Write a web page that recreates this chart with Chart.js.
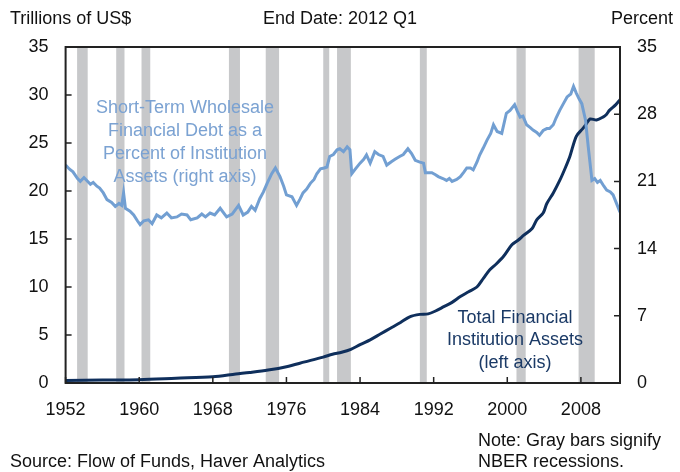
<!DOCTYPE html>
<html>
<head>
<meta charset="utf-8">
<script src="https://cdn.jsdelivr.net/npm/chart.js@4"></script>
<style>
  body { margin: 0; background: #fff; }
  canvas { display: block; }
</style>
</head>
<body>
<canvas id="chart" width="680" height="472"></canvas>
<script>
// Total financial institution assets, trillions of US$ (left axis)
const assetYears = [1952, 1956, 1960, 1964, 1968, 1970.5, 1972, 1974, 1976, 1978, 1980, 1981, 1982, 1983, 1984,
  1985.1, 1986.2, 1987.3, 1988.4, 1989.4, 1990.5, 1991.4, 1992.2, 1993.1, 1994, 1994.9, 1995.8, 1996.7, 1997.4,
  1998.1, 1998.8, 1999.6, 2000.5, 2001.2, 2001.8, 2002.7, 2003.2, 2003.9, 2004.3, 2005, 2005.7, 2006.3, 2006.8,
  2007.5, 2008.2, 2008.6, 2009, 2009.7, 2010.4, 2010.8, 2011.1, 2011.8, 2012.25];
const assetValues = [0.25, 0.3, 0.35, 0.5, 0.65, 0.94, 1.1, 1.35, 1.7, 2.2, 2.7, 3.0, 3.2, 3.5, 4.0,
  4.5, 5.1, 5.7, 6.3, 6.9, 7.15, 7.2, 7.5, 7.95, 8.4, 9.0, 9.5, 10.0, 10.9,
  11.8, 12.4, 13.2, 14.4, 14.9, 15.4, 16.1, 17.0, 17.7, 18.7, 19.8, 21.1, 22.4, 23.6,
  25.7, 26.5, 27.0, 27.5, 27.4, 27.7, 28.0, 28.4, 29.0, 29.5];

// Short-term wholesale financial debt, percent of institution assets (right axis)
const debtYears = [1952, 1952.4, 1952.8, 1953.3, 1953.6, 1954, 1954.3, 1954.7, 1955, 1955.4, 1955.7, 1956.1, 1956.5,
  1957, 1957.4, 1957.8, 1958.1, 1958.3, 1958.5, 1959, 1959.4, 1959.8, 1960.1, 1960.5, 1961, 1961.4, 1961.9, 1962.4,
  1963, 1963.5, 1964.1, 1964.6, 1965.2, 1965.6, 1966.3, 1966.8, 1967.2, 1967.7, 1968.2, 1968.8, 1969.5, 1970.1,
  1970.8, 1971.3, 1971.8, 1972.2, 1972.6, 1973.1, 1973.5, 1973.9, 1974.4, 1974.8, 1975.3, 1975.7, 1976, 1976.6,
  1977.1, 1977.5, 1977.8, 1978.2, 1978.6, 1979, 1979.3, 1979.7, 1980.1, 1980.4, 1980.7, 1981.1, 1981.5, 1981.8,
  1982.2, 1982.6, 1982.9, 1983.1, 1983.5, 1984, 1984.4, 1984.7, 1985.1, 1985.6, 1986, 1986.5, 1986.9, 1987.4,
  1987.8, 1988.3, 1988.7, 1989.2, 1989.6, 1990, 1990.5, 1990.9, 1991.1, 1991.8, 1992.2, 1992.5, 1993, 1993.4,
  1993.7, 1994, 1994.5, 1994.9, 1995.3, 1995.6, 1996, 1996.3, 1996.7, 1997, 1997.4, 1997.8, 1998.2, 1998.5,
  1998.9, 1999.4, 1999.9, 2000.3, 2000.8, 2001.1, 2001.4, 2001.7, 2002.1, 2002.5, 2002.8, 2003.2, 2003.5, 2003.9,
  2004.3, 2004.6, 2005, 2005.3, 2005.7, 2006.1, 2006.5, 2006.9, 2007.2, 2007.5, 2007.8, 2008.1, 2008.5, 2008.8,
  2009.2, 2009.5, 2009.8, 2010.1, 2010.5, 2010.8, 2011.2, 2011.5, 2012.25];
const debtValues = [22.7, 22.3, 22.0, 21.3, 21.0, 21.4, 21.1, 20.7, 20.9, 20.5, 20.3, 19.8, 19.1,
  18.8, 18.4, 18.7, 18.5, 19.8, 18.2, 17.9, 17.5, 16.9, 16.5, 16.9, 17.0, 16.6, 17.5, 17.2,
  17.7, 17.2, 17.3, 17.6, 17.5, 17.0, 17.2, 17.6, 17.3, 17.7, 17.5, 18.2, 17.3, 17.6,
  18.5, 17.5, 17.8, 18.4, 18.0, 19.2, 19.9, 20.8, 21.8, 22.4, 21.5, 20.5, 19.6, 19.4,
  18.5, 19.2, 19.8, 20.2, 20.8, 21.2, 21.8, 22.3, 22.4, 22.5, 23.6, 23.8, 24.3, 24.4,
  24.1, 24.6, 24.3, 21.8, 22.3, 22.9, 23.3, 23.75, 22.9, 24.1, 23.8, 23.6, 22.7, 23.05,
  23.3, 23.6, 23.8, 24.4, 23.9, 23.2, 23.0, 22.9, 21.9, 21.9, 21.7, 21.5, 21.3, 21.1,
  21.3, 21.0, 21.2, 21.5, 22.0, 22.4, 22.4, 22.2, 23.0, 23.75, 24.5, 25.3, 26.0, 26.9,
  26.2, 26.0, 28.1, 28.4, 29.0, 28.3, 27.7, 27.8, 26.9, 26.6, 26.35, 26.1, 25.8, 26.3,
  26.5, 26.5, 26.9, 27.6, 28.4, 29.1, 29.8, 30.1, 30.9, 30.2, 29.6, 29.1, 27.4, 24.6,
  21.1, 21.3, 20.9, 21.1, 20.5, 20.1, 19.9, 19.6, 17.8];

// NBER recessions (gray bars)
const recessionStart = [1953.25, 1957.5, 1960.25, 1969.75, 1973.75, 1980.0, 1981.5, 1990.5, 2001.0, 2007.75];
const recessionEnd = [1954.4, 1958.4, 1961.2, 1970.95, 1975.2, 1980.65, 1983.0, 1991.25, 2002.0, 2009.5];

const xTicks = [1952, 1960, 1968, 1976, 1984, 1992, 2000, 2008];

const FONT = '"Liberation Sans", Arial, sans-serif';
Chart.defaults.font.family = FONT;
Chart.defaults.font.size = 18;
Chart.defaults.color = '#111';

const toPoints = (xs, ys) => xs.map((x, i) => ({ x: x, y: ys[i] }));

const recessionBars = {
    id: 'recessionBars',
    beforeDatasetsDraw(chart) {
        const { ctx, chartArea, scales } = chart;
        ctx.save();
        ctx.fillStyle = '#c7c8ca';
        recessionStart.forEach((s, i) => {
            const x0 = scales.x.getPixelForValue(s);
            const x1 = scales.x.getPixelForValue(recessionEnd[i]);
            ctx.fillRect(x0, chartArea.top, x1 - x0, chartArea.bottom - chartArea.top);
        });
        ctx.restore();
    }
};

const frameAndText = {
    id: 'frameAndText',
    afterDraw(chart) {
        const { ctx, chartArea, scales } = chart;
        const a = chartArea;
        ctx.save();

        // inward tick marks
        ctx.strokeStyle = '#222';
        ctx.lineWidth = 1.5;
        ctx.beginPath();
        scales.y.ticks.forEach(t => {
            const y = scales.y.getPixelForValue(t.value);
            ctx.moveTo(a.left, y); ctx.lineTo(a.left + 6, y);
        });
        scales.y2.ticks.forEach(t => {
            const y = scales.y2.getPixelForValue(t.value);
            ctx.moveTo(a.right, y); ctx.lineTo(a.right - 6, y);
        });
        xTicks.forEach(v => {
            const x = scales.x.getPixelForValue(v);
            ctx.moveTo(x, a.bottom); ctx.lineTo(x, a.bottom - 6);
        });
        ctx.stroke();

        // frame
        ctx.lineWidth = 2;
        ctx.strokeRect(a.left, a.top, a.right - a.left, a.bottom - a.top);

        ctx.font = '18px ' + FONT;
        ctx.textBaseline = 'middle';
        ctx.fillStyle = '#111';
        ctx.textAlign = 'left';
        ctx.fillText('Trillions of US$', 10, 19);
        ctx.fillText('Source: Flow of Funds, Haver Analytics', 10, 462);
        ctx.fillText('Note: Gray bars signify', 478, 441);
        ctx.fillText('NBER recessions.', 478, 462);
        ctx.textAlign = 'center';
        ctx.fillText('End Date: 2012 Q1', 340, 19);
        ctx.textAlign = 'right';
        ctx.fillText('Percent', 673, 19);

        // series labels
        ctx.textAlign = 'center';
        ctx.fillStyle = '#7ba2d2';
        ['Short-Term Wholesale', 'Financial Debt as a', 'Percent of Institution', 'Assets (right axis)']
            .forEach((s, i) => ctx.fillText(s, 185, 108 + i * 23));
        ctx.fillStyle = '#1b3a66';
        ['Total Financial', 'Institution Assets', '(left axis)']
            .forEach((s, i) => ctx.fillText(s, 515, 318 + i * 22.5));
        ctx.restore();
    }
};

new Chart(document.getElementById('chart'), {
    type: 'line',
    data: {
        datasets: [
            {
                label: 'Short-Term Wholesale Financial Debt (% of assets)',
                data: toPoints(debtYears, debtValues),
                yAxisID: 'y2',
                borderColor: '#729fd2',
                borderWidth: 3,
                pointRadius: 0,
                tension: 0
            },
            {
                label: 'Total Financial Institution Assets',
                data: toPoints(assetYears, assetValues),
                yAxisID: 'y',
                borderColor: '#0f2f5c',
                borderWidth: 3,
                pointRadius: 0,
                tension: 0.3
            }
        ]
    },
    options: {
        responsive: false,
        animation: false,
        layout: { padding: { top: 47, left: 0, right: 0, bottom: 0 } },
        plugins: { legend: { display: false }, tooltip: { enabled: false } },
        scales: {
            x: {
                type: 'linear',
                min: 1952,
                max: 2012.25,
                grid: { display: false, drawTicks: false },
                border: { display: false },
                afterBuildTicks: s => { s.ticks = xTicks.map(v => ({ value: v })); },
                afterFit: s => { s.height = 89; },
                ticks: { padding: 16, maxRotation: 0, autoSkip: false, callback: v => String(v) }
            },
            y: {
                position: 'left',
                min: 0,
                max: 35,
                grid: { display: false, drawTicks: false },
                border: { display: false },
                afterFit: s => { s.width = 65.6; },
                ticks: { stepSize: 5, padding: 17 }
            },
            y2: {
                position: 'right',
                min: 0,
                max: 35,
                grid: { display: false, drawTicks: false },
                border: { display: false },
                afterFit: s => { s.width = 60; },
                ticks: { stepSize: 7, padding: 17 }
            }
        }
    },
    plugins: [recessionBars, frameAndText]
});
</script>
</body>
</html>
